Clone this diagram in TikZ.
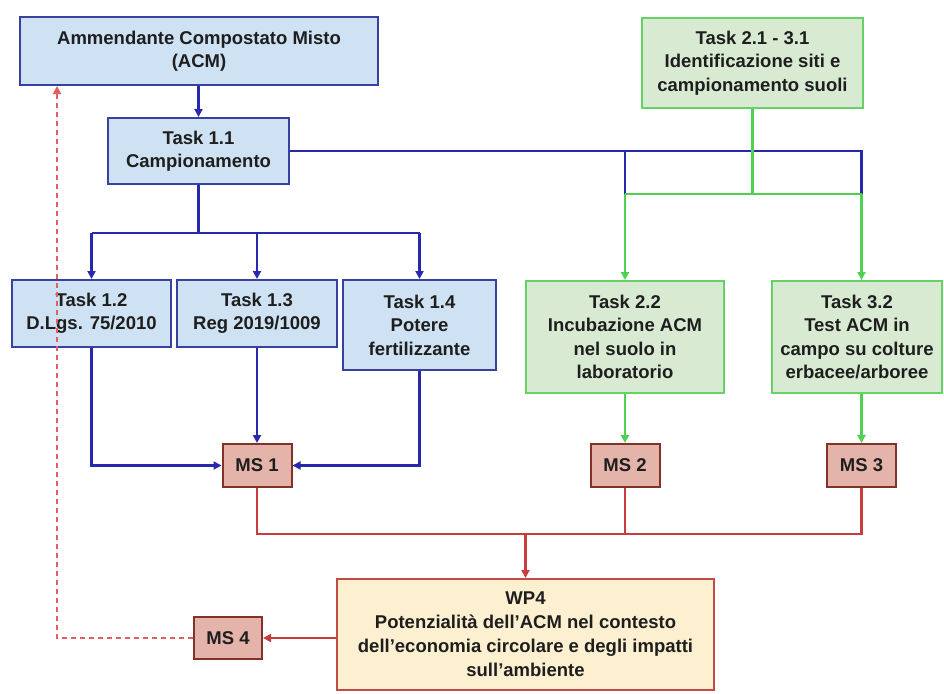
\documentclass[tikz,border=0pt]{standalone}
\usepackage{fontspec}
\setmainfont{Liberation Sans}
\usetikzlibrary{arrows.meta}
\definecolor{bline}{RGB}{40,40,170}
\definecolor{bborder}{RGB}{55,65,160}
\definecolor{bfill}{RGB}{207,226,243}
\definecolor{gline}{RGB}{80,208,80}
\definecolor{gborder}{RGB}{100,210,100}
\definecolor{gfill}{RGB}{217,234,211}
\definecolor{rline}{RGB}{200,60,60}
\definecolor{rborder}{RGB}{130,50,40}
\definecolor{rfill}{RGB}{228,180,170}
\definecolor{wfill}{RGB}{253,240,208}
\definecolor{wborder}{RGB}{195,75,70}
\definecolor{dline}{RGB}{225,95,95}
\definecolor{txt}{RGB}{30,30,30}
\begin{document}
\begin{tikzpicture}[x=1pt,y=-1pt,
  box/.style={draw, line width=2pt, align=center, inner sep=0pt, text=txt,
    font=\fontsize{18.5}{23.5}\selectfont\bfseries},
  bluebox/.style={box, draw=bborder, fill=bfill},
  greenbox/.style={box, draw=gborder, fill=gfill},
  msbox/.style={box, draw=rborder, fill=rfill, minimum width=69pt, minimum height=43pt},
  wpbox/.style={box, draw=wborder, fill=wfill, font=\fontsize{18.5}{24}\selectfont\bfseries},
  bl/.style={draw=bline, line width=2.2pt},
  gl/.style={draw=gline, line width=2.2pt},
  rl/.style={draw=rline, line width=2.2pt},
  tip/.style={-{Triangle[length=8pt,width=8pt]}}
]
\useasboundingbox (0,0) rectangle (944,693);
\fill[white] (0,0) rectangle (944,693);

% nodes
\node[bluebox, minimum width=358pt, minimum height=68pt] (acm) at (199,51) {Ammendante Compostato Misto\\(ACM)};
\node[bluebox, minimum width=181pt, minimum height=66pt] (t11) at (198.5,151) {Task 1.1\\Campionamento};
\node[greenbox, minimum width=221pt, minimum height=90pt] (t21) at (752.5,63) {Task 2.1 - 3.1\\Identificazione siti e\\campionamento suoli};
\node[bluebox, minimum width=159pt, minimum height=67pt] (t12) at (91.5,313.5) {Task 1.2\\D.Lgs. 75/2010};
\node[bluebox, minimum width=160pt, minimum height=67pt] (t13) at (257,313.5) {Task 1.3\\Reg 2019/1009};
\node[bluebox, minimum width=153pt, minimum height=90pt] (t14) at (419.5,325) {Task 1.4\\Potere\\fertilizzante};
\node[greenbox, minimum width=198pt, minimum height=112pt] (t22) at (625,337) {Task 2.2\\Incubazione ACM\\nel suolo in\\laboratorio};
\node[greenbox, minimum width=170pt, minimum height=112pt] (t32) at (857,337) {Task 3.2\\Test ACM in\\campo su colture\\erbacee/arboree};
\node[msbox] (ms1) at (257,465.5) {MS 1};
\node[msbox] (ms2) at (625,465.5) {MS 2};
\node[msbox] (ms3) at (861.5,465.5) {MS 3};
\node[msbox, minimum width=68pt, minimum height=42pt] (ms4) at (228,638) {MS 4};
\node[wpbox, minimum width=377pt, minimum height=111pt] (wp4) at (525.5,634.5) {WP4\\Potenzialità dell'ACM nel contesto\\dell'economia circolare e degli impatti\\sull'ambiente};

% blue connectors
\draw[bl, tip] (t11.north |- acm.south) -- (t11.north);
\draw[bl] (t11.south) -- (t11.south |- 0,233);
\draw[bl] (t12.north |- 0,233) -- (t14.north |- 0,233);
\draw[bl, tip] (t12.north |- 0,233) -- (t12.north);
\draw[bl, tip] (t13.north |- 0,233) -- (t13.north);
\draw[bl, tip] (t14.north |- 0,233) -- (t14.north);
\draw[bl] (t11.east) -- (ms3.center |- t11.east) -- (ms3.center |- 0,194);
\draw[bl] (t22.north |- t11.east) -- (t22.north |- 0,194);
\draw[bl, tip] (t12.south) -- (t12.south |- ms1.west) -- (ms1.west);
\draw[bl, tip] (t13.south) -- (ms1.north);
\draw[bl, tip] (t14.south) -- (t14.south |- ms1.east) -- (ms1.east);

% green connectors
\draw[gl] (t21.south) -- (t21.south |- 0,194);
\draw[gl] (t22.north |- 0,194) -- (ms3.center |- 0,194);
\draw[gl, tip] (t22.north |- 0,194) -- (t22.north);
\draw[gl, tip] (ms3.center |- 0,194) -- (ms3.center |- t32.north);
\draw[gl, tip] (t22.south) -- (ms2.north);
\draw[gl, tip] (ms3.center |- t32.south) -- (ms3.north);

% red connectors
\draw[rl] (ms1.south) -- (ms1.south |- 0,534) -- (ms3.south |- 0,534) -- (ms3.south);
\draw[rl] (ms2.south) -- (ms2.south |- 0,534);
\draw[rl, tip] (wp4.north |- 0,534) -- (wp4.north);
\draw[rl, tip] (ms4.east -| wp4.west) -- (ms4.east);
\draw[draw=dline, line width=2pt, dash pattern=on 5pt off 4pt, tip] (ms4.west) -- (ms4.west -| 57,0) -- (acm.south -| 57,0);
\end{tikzpicture}
\end{document}
